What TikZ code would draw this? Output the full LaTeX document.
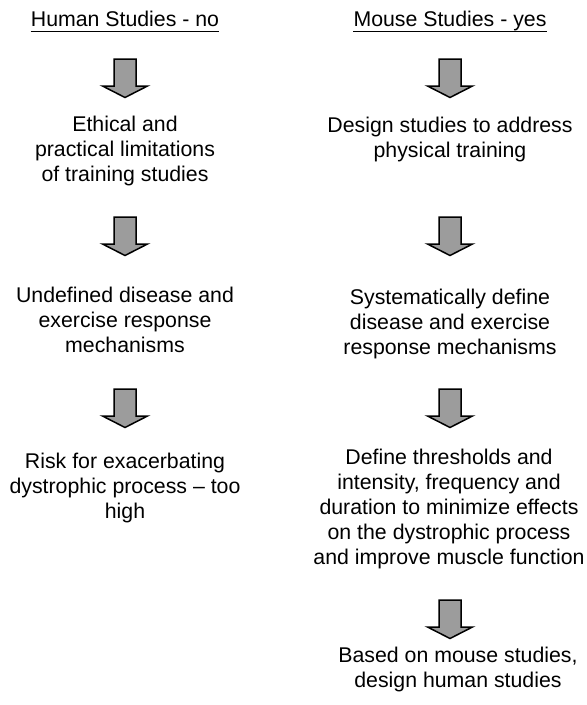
\documentclass[tikz,border=0pt]{standalone}
\usepackage{fontspec}
\setmainfont{Liberation Sans}
\definecolor{arrowgray}{RGB}{156,156,156}
\begin{document}
% text nodes are placed by the baseline of their last line (anchor=base)
\begin{tikzpicture}[x=1pt,y=-1pt,
  txt/.style={font=\fontsize{21.3}{24.8}\selectfont, align=center, inner sep=0pt, anchor=base},
  rule/.style={line width=1.1pt},
  downarrow/.pic={
    \draw[line width=1.5pt, fill=arrowgray, line join=miter]
      (-11,0) -- (11,0) -- (11,27) -- (22.5,27) -- (0,38.5) -- (-22.5,27) -- (-11,27) -- cycle;
  }]
\useasboundingbox (0,0) rectangle (587,705);

% left column: human studies
\node[txt] (ht) at (125,26) {Human Studies - no};
\draw[rule] ([yshift=-5.5pt]ht.base west) -- ([yshift=-5.5pt]ht.base east);
\pic at (125,59) {downarrow};
\node[txt] (h1) at (125,181) {Ethical and\\practical limitations\\of training studies};
\pic at (125,217) {downarrow};
\node[txt] (h2) at (125,352) {Undefined disease and\\exercise response\\mechanisms};
\pic at (125,389) {downarrow};
\node[txt] (h3) at (125,518) {Risk for exacerbating\\dystrophic process – too\\high};

% right column: mouse studies
\node[txt] (mt) at (450,26) {Mouse Studies - yes};
\draw[rule] ([yshift=-5.5pt]mt.base west) -- ([yshift=-5.5pt]mt.base east);
\pic at (450,59) {downarrow};
\node[txt] (m1) at (450,157) {Design studies to address\\physical training};
\pic at (450,217) {downarrow};
\node[txt] (m2) at (450,354) {Systematically define\\disease and exercise\\response mechanisms};
\pic at (450,389) {downarrow};
\node[txt] (m3) at (449,564) {Define thresholds and\\intensity, frequency and\\duration to minimize effects\\on the dystrophic process\\and improve muscle function};
\pic at (450,600) {downarrow};
\node[txt] (m4) at (458,687) {Based on mouse studies,\\design human studies};
\end{tikzpicture}
\end{document}
